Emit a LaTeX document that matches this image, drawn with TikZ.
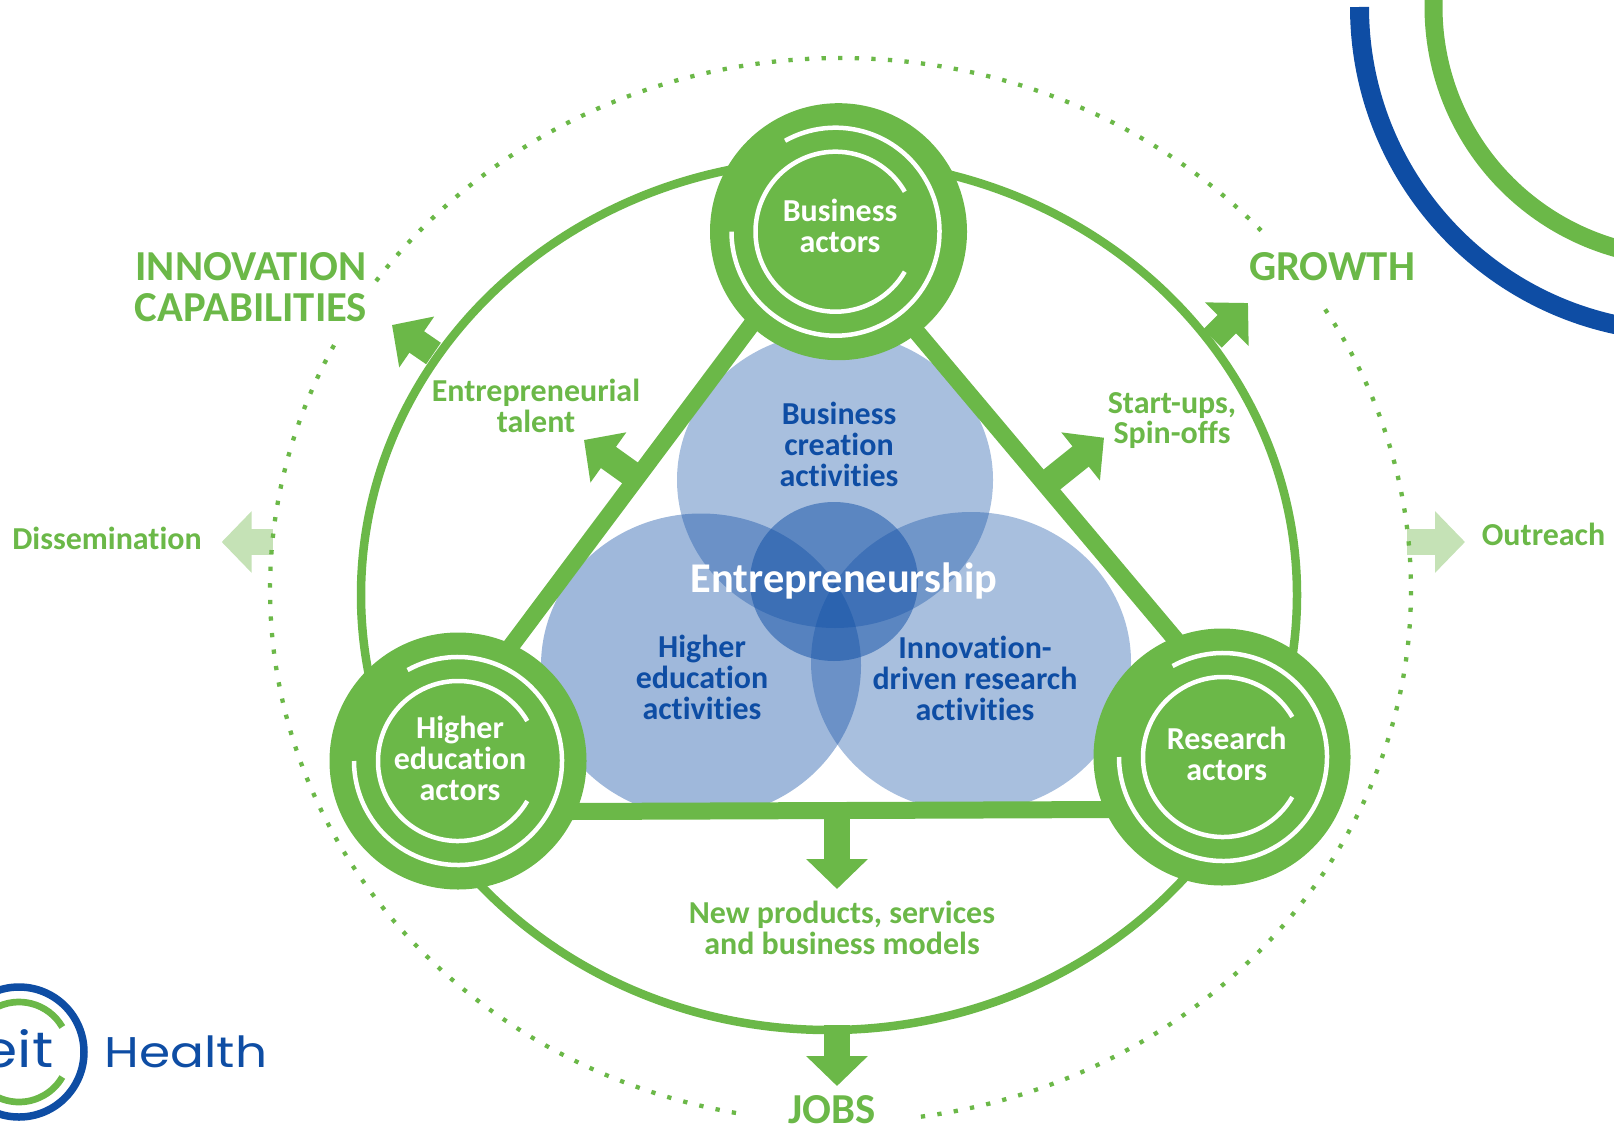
\documentclass[tikz,border=0pt]{standalone}
\usepackage{fontspec}
\setmainfont[Ligatures={TeX,NoCommon}]{Carlito}
\newfontfamily\logofont[FakeStretch=1.17]{Poppins}
\usetikzlibrary{arrows.meta}

\definecolor{eitgreen}{HTML}{6BB848}
\definecolor{eitblue}{HTML}{0E4DA4}
\definecolor{eitpale}{HTML}{C5E2B6}

\tikzset{
    actorcircle/.style={circle, fill=eitgreen, minimum size=2.57cm, inner sep=0pt},
    actorbar/.style={eitgreen, line width=0.17cm, shorten <=-8pt, shorten >=-8pt},
    ringarc/.style={white, line width=0.045cm},
    bluefill/.style={fill=eitblue, fill opacity=#1},
    blockarrow/.style={eitgreen, line width=0.26cm, -{Triangle[length=0.30cm, width=0.60cm]}},
    palearrow/.style={blockarrow, draw=eitpale, color=eitpale},
    dots/.style={eitgreen, line width=0.043cm, dash pattern=on 0.043cm off 0.123cm},
    actortext/.style={white, align=center, font=\bfseries\fontsize{9.1}{8.8}\selectfont},
    bluetext/.style={eitblue, align=center, font=\bfseries\fontsize{9.1}{8.8}\selectfont},
    greentext/.style={eitgreen, align=center, font=\bfseries\fontsize{9.1}{8.8}\selectfont},
    headtext/.style={eitgreen, align=center, font=\bfseries\fontsize{12.15}{11.7}\selectfont},
}

\begin{document}
\begin{tikzpicture}
        \useasboundingbox (0, 0) rectangle (16.14, -11.29);

        % corner arcs
        \draw[eitblue, line width=0.19cm] (13.595, -0.07) arc[start angle=180, end angle=270, radius=3.25];
        \draw[eitgreen, line width=0.18cm] (16.84, -0.07) ++(170:2.505) arc[start angle=170, end angle=270, radius=2.505];

        % logo
        \coordinate (logo) at (0.19, -10.52);
        \draw[eitblue, line width=0.075cm] (logo) circle (0.65);
        \draw[eitgreen, line width=0.067cm] (logo) ++(30:0.50) arc[start angle=30, end angle=330, radius=0.50];
        \node[eitblue, anchor=base east, inner sep=0pt, font=\logofont\fontsize{14.2}{14.2}\selectfont] (eit) at (0.54, -10.67) {eit};
        \node[eitblue, anchor=base west, inner sep=0pt, font=\logofont\fontsize{12.2}{12.2}\selectfont] (health) at (1.04, -10.67) {Health};

        % activity circles
        \fill[bluefill=0.36] (8.35, -4.80) ellipse [x radius=1.58, y radius=1.48];
        \fill[bluefill=0.40] (7.01, -6.655) ellipse [x radius=1.60, y radius=1.52];
        \fill[bluefill=0.36] (9.71, -6.62) ellipse [x radius=1.60, y radius=1.50];
        \fill[bluefill=0.50] (8.34, -5.815) ellipse [x radius=0.84, y radius=0.795];

        % pale arrows and dotted ring
        \coordinate (dissemstart) at (2.73, -5.42);
        \coordinate (dissemtip) at (2.217, -5.42);
        \coordinate (outreachstart) at (14.07, -5.42);
        \coordinate (outreachtip) at (14.65, -5.42);
        \draw[palearrow] (dissemstart) -- (dissemtip);
        \draw[palearrow] (outreachstart) -- (outreachtip);

        \coordinate (dotcentre) at (8.405, -5.90);
        \draw[dots] (dotcentre) ++(152.6:5.705 and 5.32) arc[start angle=152.6, end angle=260.2, x radius=5.705, y radius=5.32];
        \draw[dots] (dotcentre) ++(278.1:5.705 and 5.32) arc[start angle=278.1, end angle=392.2, x radius=5.705, y radius=5.32];
        \draw[dots] (dotcentre) ++(42.5:5.705 and 5.32) arc[start angle=42.5, end angle=144.7, x radius=5.705, y radius=5.32];

        % ring and actors
        \draw[eitgreen, line width=0.085cm] (8.29, -5.95) ellipse [x radius=4.68, y radius=4.35];

        \node[actorcircle] (business) at (8.385, -2.317) {};
        \node[actorcircle] (higher) at (4.58, -7.61) {};
        \node[actorcircle] (research) at (12.22, -7.57) {};

        \draw[actorbar] (business.227) -- (higher.65);
        \draw[actorbar] (business.308.4) -- (research.112.8);
        \draw[actorbar] (higher.337.3) -- (research.204.6);

        \foreach \actor/\ringdx in {business/-0.03, higher/0, research/0.01} {
            \draw[ringarc] ([xshift=\ringdx cm]\actor.center) ++(30:0.80) arc[start angle=30, end angle=330, radius=0.80];
            \draw[ringarc] ([xshift=\ringdx cm]\actor.center) ++(119:1.04) arc[start angle=119, end angle=-180, radius=1.04];
        }

        % block arrows
        \coordinate (capstart) at (4.335, -3.535);
        \coordinate (captip) at (3.92, -3.25);
        \coordinate (talentstart) at (6.40, -4.80);
        \coordinate (talenttip) at (5.84, -4.40);
        \coordinate (growthstart) at (12.125, -3.385);
        \coordinate (growthtip) at (12.48, -3.03);
        \coordinate (spinstart) at (10.45, -4.85);
        \coordinate (spintip) at (11.04, -4.377);
        \coordinate (productstart) at (8.37, -8.10);
        \coordinate (producttip) at (8.37, -8.89);
        \coordinate (jobstart) at (8.37, -10.25);
        \coordinate (jobtip) at (8.37, -10.86);
        \draw[blockarrow] (capstart) -- (captip);
        \draw[blockarrow] (talentstart) -- (talenttip);
        \draw[blockarrow] (growthstart) -- (growthtip);
        \draw[blockarrow] (spinstart) -- (spintip);
        \draw[blockarrow] (productstart) -- (producttip);
        \draw[blockarrow] (jobstart) -- (jobtip);

        % texts
        \node[actortext] (businesstext) at (8.40, -2.255) {Business\\actors};
        \node[actortext] (highertext) at (4.60, -7.585) {Higher\\education\\actors};
        \node[actortext] (researchtext) at (12.267, -7.535) {Research\\actors};

        \node[bluetext] (creation) at (8.39, -4.445) {Business\\creation\\activities};
        \node[bluetext] (education) at (7.02, -6.77) {Higher\\education\\activities};
        \node[bluetext] (driven) at (9.75, -6.785) {Innovation-\\driven research\\activities};

        \node[white, anchor=base, inner sep=0pt, font=\bfseries\fontsize{12.05}{12.05}\selectfont] (entre) at (8.44, -5.92) {Entrepreneurship};

        \node[greentext] (talent) at (5.36, -4.055) {Entrepreneurial\\talent};
        \node[greentext] (spin) at (11.72, -4.205) {Start-ups,\\Spin-offs};
        \node[greentext] (products) at (8.42, -9.275) {New products, services\\and business models};
        \node[greentext, anchor=base, inner sep=0pt] (dissem) at (1.07, -5.49) {Dissemination};
        \node[greentext, anchor=base, inner sep=0pt] (outreach) at (15.435, -5.45) {Outreach};

        \node[headtext] (capabilities) at (2.51, -2.875) {INNOVATION\\CAPABILITIES};
        \node[headtext, anchor=base, inner sep=0pt] (growth) at (13.32, -2.80) {GROWTH};
        \node[headtext, anchor=base, inner sep=0pt] (jobs) at (8.32, -11.235) {JOBS};
    \end{tikzpicture}
\end{document}
